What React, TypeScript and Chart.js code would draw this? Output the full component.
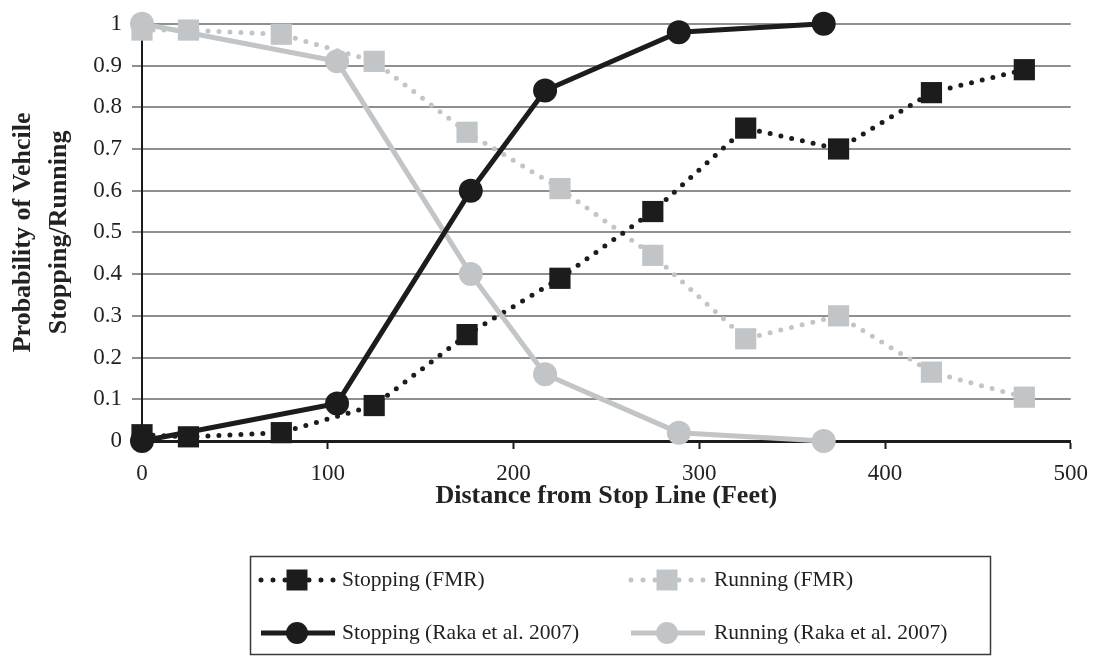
import React, { useEffect, useRef } from "react";
import { Chart, registerables } from "chart.js";

Chart.register(...registerables);

// ---- Data ----
const fmrDistance = [0, 25, 75, 125, 175, 225, 275, 325, 375, 425, 475];
const fmrStopping = [0.015, 0.01, 0.02, 0.085, 0.255, 0.39, 0.55, 0.75, 0.7, 0.835, 0.89];
const fmrRunning = [0.985, 0.985, 0.975, 0.91, 0.74, 0.605, 0.445, 0.245, 0.3, 0.165, 0.105];

const rakaDistance = [0, 105, 177, 217, 289, 367];
const rakaStopping = [0, 0.09, 0.6, 0.84, 0.98, 1.0];
const rakaRunning = [1.0, 0.91, 0.4, 0.16, 0.02, 0.0];

const seriesLabels = [
  "Stopping (Raka et al. 2007)",
  "Running (Raka et al. 2007)",
  "Stopping (FMR)",
  "Running (FMR)",
];

const xTitle = "Distance from Stop Line (Feet)";
const yTitle = ["Probability of Vehcile", "Stopping/Running"];

// ---- Styles ----
const BLACK = "#1c1c1c";
const GRAY = "#c2c5c7";
const GRID = "#8f8f8f";
const TEXT = "#222222";
const FONT = "'Liberation Serif', 'Times New Roman', serif";

const toPoints = (xs: number[], ys: number[]) => xs.map((x, i) => ({ x, y: ys[i] }));

const legendPlugin = {
  id: "boxLegend",
  afterDraw(chart: any) {
    const ctx = chart.ctx as CanvasRenderingContext2D;
    ctx.save();
    ctx.strokeStyle = "#3a3a3a";
    ctx.lineWidth = 1.5;
    ctx.strokeRect(250.5, 556.5, 740, 98);
    const items = [
      { ds: 2, cx: 297, y: 580, tx: 342 },
      { ds: 3, cx: 667, y: 580, tx: 714 },
      { ds: 0, cx: 297, y: 633, tx: 342 },
      { ds: 1, cx: 667, y: 633, tx: 714 },
    ];
    for (const it of items) {
      const d: any = chart.data.datasets[it.ds];
      ctx.beginPath();
      ctx.setLineDash(d.borderDash ? [0, 12] : []);
      ctx.lineCap = d.borderDash ? "round" : "butt";
      ctx.lineWidth = d.borderWidth;
      ctx.strokeStyle = d.borderColor;
      ctx.moveTo(it.cx - 36, it.y);
      ctx.lineTo(it.cx + 38, it.y);
      ctx.stroke();
      ctx.setLineDash([]);
      ctx.fillStyle = d.pointBackgroundColor;
      if (d.pointStyle === "rect") {
        ctx.fillRect(it.cx - 10.5, it.y - 10.5, 21, 21);
      } else {
        ctx.beginPath();
        ctx.arc(it.cx, it.y, 11, 0, Math.PI * 2);
        ctx.fill();
      }
      ctx.fillStyle = TEXT;
      ctx.font = `21.5px ${FONT}`;
      ctx.textBaseline = "middle";
      ctx.textAlign = "left";
      ctx.fillText(d.label, it.tx, it.y);
    }
    ctx.restore();
  },
};

export default function App() {
  const canvasRef = useRef<HTMLCanvasElement | null>(null);

  useEffect(() => {
    if (!canvasRef.current) return;
    Chart.defaults.font.family = FONT;
    const chart = new Chart(canvasRef.current, {
      type: "line",
      data: {
        datasets: [
          {
            label: seriesLabels[0],
            data: toPoints(rakaDistance, rakaStopping),
            borderColor: BLACK,
            backgroundColor: BLACK,
            borderWidth: 5,
            pointStyle: "circle",
            pointRadius: 12,
            pointBackgroundColor: BLACK,
            pointBorderWidth: 0,
            clip: false,
          },
          {
            label: seriesLabels[1],
            data: toPoints(rakaDistance, rakaRunning),
            borderColor: GRAY,
            backgroundColor: GRAY,
            borderWidth: 5,
            pointStyle: "circle",
            pointRadius: 12,
            pointBackgroundColor: GRAY,
            pointBorderWidth: 0,
            clip: false,
          },
          {
            label: seriesLabels[2],
            data: toPoints(fmrDistance, fmrStopping),
            borderColor: BLACK,
            backgroundColor: BLACK,
            borderWidth: 5,
            borderDash: [0, 11],
            borderCapStyle: "round",
            pointStyle: "rect",
            pointRadius: 15,
            pointBackgroundColor: BLACK,
            pointBorderWidth: 0,
            clip: false,
          },
          {
            label: seriesLabels[3],
            data: toPoints(fmrDistance, fmrRunning),
            borderColor: GRAY,
            backgroundColor: GRAY,
            borderWidth: 5,
            borderDash: [0, 11],
            borderCapStyle: "round",
            pointStyle: "rect",
            pointRadius: 15,
            pointBackgroundColor: GRAY,
            pointBorderWidth: 0,
            clip: false,
          },
        ] as any,
      },
      options: {
        responsive: false,
        animation: false,
        events: [],
        layout: { padding: { top: 21, right: 24, bottom: 136, left: 0 } },
        elements: { line: { tension: 0 } },
        plugins: {
          legend: { display: false },
          tooltip: { enabled: false },
        },
        scales: {
          x: {
            type: "linear",
            min: 0,
            max: 500,
            ticks: {
              stepSize: 100,
              color: TEXT,
              font: { size: 23 },
              padding: 11,
            },
            grid: {
              drawOnChartArea: false,
              drawTicks: true,
              tickLength: 8,
              tickColor: BLACK,
              tickWidth: 2,
            },
            border: { color: BLACK, width: 3 },
            title: {
              display: true,
              text: xTitle,
              color: TEXT,
              font: { size: 26, weight: "bold", lineHeight: 1.2 },
              padding: { top: 0, bottom: 8 },
            },
            afterFit: (s: any) => {
              s.height = 79;
            },
          },
          y: {
            min: 0,
            max: 1,
            ticks: {
              stepSize: 0.1,
              color: TEXT,
              font: { size: 23 },
              padding: 10,
              callback: (v: any) => String(Number(Number(v).toFixed(1))),
            },
            grid: {
              color: GRID,
              lineWidth: 2,
              tickLength: 10,
              tickColor: GRID,
            },
            border: { color: BLACK, width: 2 },
            title: {
              display: true,
              text: yTitle,
              color: TEXT,
              font: { size: 26, weight: "bold", lineHeight: 1.4 },
              padding: { top: 5, bottom: 0 },
            },
            afterFit: (s: any) => {
              s.width = 142;
            },
          },
        },
      } as any,
      plugins: [legendPlugin],
    });
    return () => chart.destroy();
  }, []);

  return (
    <div style={{ position: "absolute", left: 0, top: 0, width: 1099, height: 656, background: "#fff" }}>
      <canvas ref={canvasRef} width={1099} height={656} style={{ width: 1099, height: 656, display: "block" }} />
    </div>
  );
}
